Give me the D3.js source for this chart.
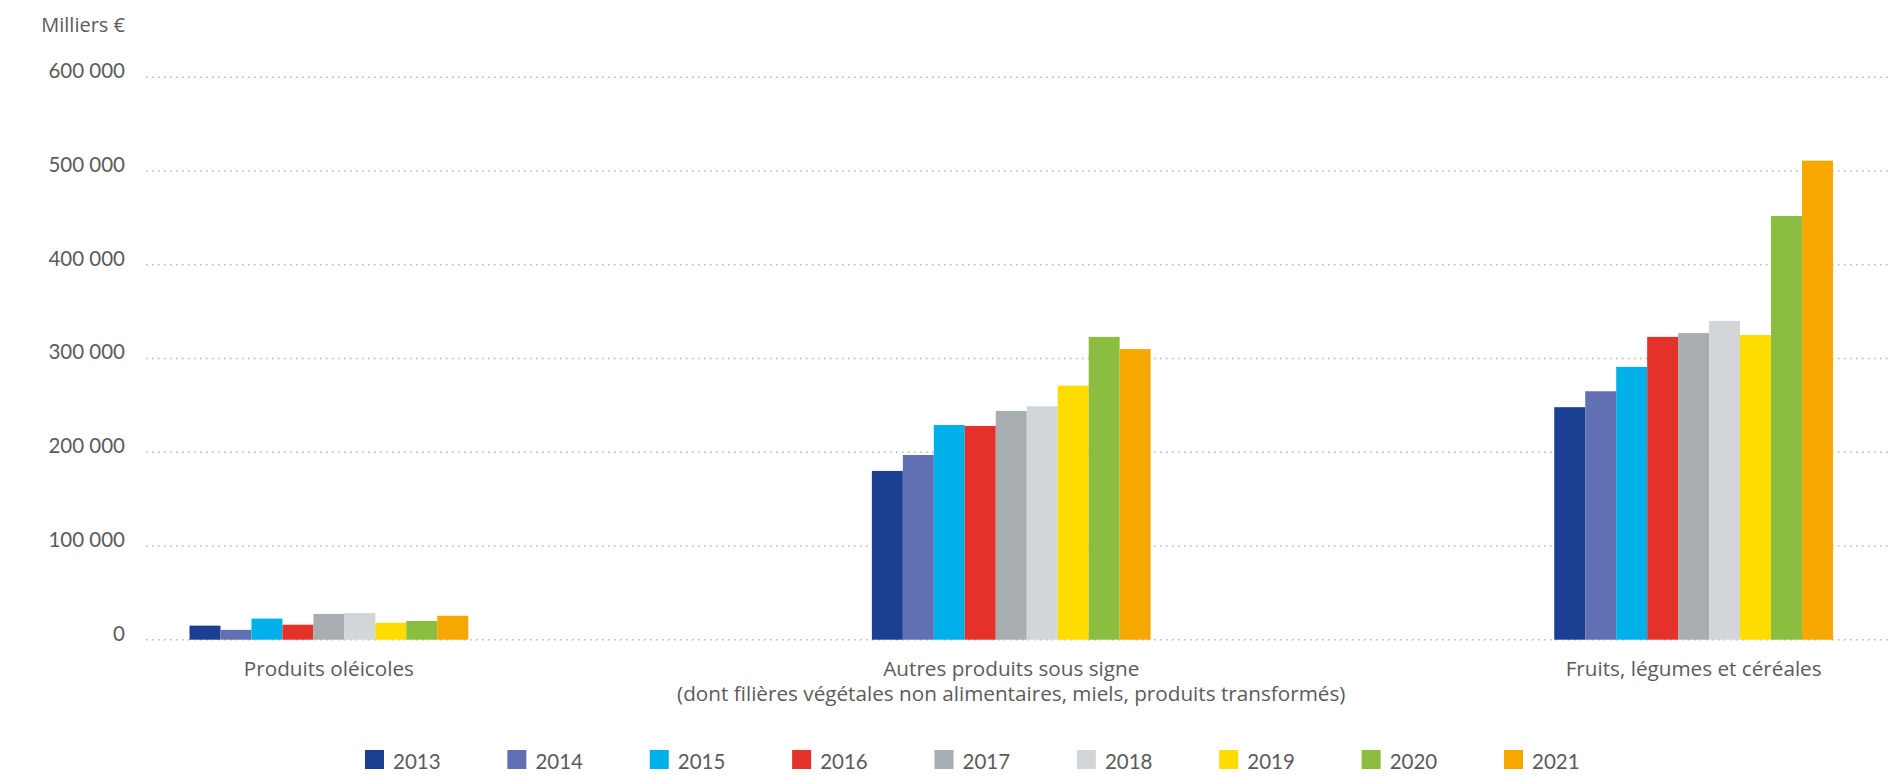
<!DOCTYPE html>
<html>
<head>
<meta charset="utf-8">
<script src="https://cdn.jsdelivr.net/npm/d3@7/dist/d3.min.js"></script>
<style>
html,body{margin:0;padding:0;background:#fff;}
svg{display:block;}
text{font-family:"Lato","Open Sans",sans-serif;fill:#5b5b5b;}
text.wide{font-family:"Open Sans","Lato",sans-serif;}
</style>
</head>
<body>
<script>
const categories = ["Produits oléicoles", "Autres produits sous signe", "Fruits, légumes et céréales"];
const categoryLines = [
  ["Produits oléicoles"],
  ["Autres produits sous signe", "(dont filières végétales non alimentaires, miels, produits transformés)"],
  ["Fruits, légumes et céréales"]
];
const years = ["2013","2014","2015","2016","2017","2018","2019","2020","2021"];
const colors = ["#1a3f93","#6170b3","#00b0e8","#e4322b","#a7adb0","#d3d6d9","#ffdc00","#8bbd41","#f6a800"];
const valuesOleicoles = [15000, 10500, 22500, 16000, 27500, 28500, 18000, 20000, 25500];
const valuesAutres = [180000, 197000, 229000, 228000, 244000, 249000, 271000, 323000, 310000];
const valuesFruits = [248000, 265000, 291000, 323000, 327000, 340000, 325000, 452000, 511000];
const seriesValues = [valuesOleicoles, valuesAutres, valuesFruits];
const yTicks = [0, 100000, 200000, 300000, 400000, 500000, 600000];
const yUnit = "Milliers €";

const W = 1892, H = 775;
const svg = d3.select("body").append("svg").attr("width", W).attr("height", H);

const y = d3.scaleLinear().domain([0, 600000]).range([639.7, 77.2]);
const x0 = d3.scaleBand().domain(categories).range([189.5, 1833]).paddingInner(0.5915).paddingOuter(0);
const x1 = d3.scaleBand().domain(years).range([0, x0.bandwidth()]).padding(0);
const color = d3.scaleOrdinal().domain(years).range(colors);
const fmt = d3.formatLocale({decimal: ",", thousands: " ", grouping: [3], currency: ["", " €"]}).format(",d");

// gridlines
svg.append("g").selectAll("line").data(yTicks).join("line")
  .attr("x1", 146).attr("x2", W)
  .attr("y1", d => y(d)).attr("y2", d => y(d))
  .attr("stroke", "#b4b4b4").attr("stroke-width", 1.5)
  .attr("stroke-dasharray", "1.5,4.5");

// y tick labels
svg.append("g").selectAll("text").data(yTicks).join("text")
  .attr("x", 125).attr("y", d => y(d) + 1)
  .attr("text-anchor", "end")
  .style("font-size", "20.5px")
  .text(d => fmt(d));

svg.append("text").attr("class", "wide").attr("x", 125).attr("y", 32).attr("text-anchor", "end")
  .style("font-size", "20px").text(yUnit);

// bars
const groups = svg.append("g").selectAll("g").data(categories).join("g")
  .attr("transform", d => `translate(${x0(d)},0)`);
groups.selectAll("rect").data((c, i) => years.map((yr, j) => ({yr, v: seriesValues[i][j]})))
  .join("rect")
  .attr("x", d => x1(d.yr))
  .attr("width", x1.bandwidth())
  .attr("y", d => y(d.v))
  .attr("height", d => y(0) - y(d.v))
  .attr("fill", d => color(d.yr));

// category labels
const labels = svg.append("g").selectAll("text").data(categories).join("text")
  .attr("class", "wide")
  .attr("x", d => x0(d) + x0.bandwidth() / 2)
  .attr("y", 676)
  .attr("text-anchor", "middle")
  .style("font-size", "20.7px");
labels.selectAll("tspan").data((d, i) => categoryLines[i]).join("tspan")
  .attr("x", function() { return d3.select(this.parentNode).attr("x"); })
  .attr("dy", (d, i) => i === 0 ? 0 : 25)
  .text(d => d);

// legend
const legendX = d3.scalePoint().domain(years).range([365, 1504]);
const leg = svg.append("g").selectAll("g").data(years).join("g")
  .attr("transform", d => `translate(${legendX(d)},750)`);
leg.append("rect").attr("width", 19).attr("height", 19).attr("fill", d => color(d));
leg.append("text").attr("x", 28).attr("y", 19).style("font-size", "20.5px").text(d => d);
</script>
</body>
</html>
